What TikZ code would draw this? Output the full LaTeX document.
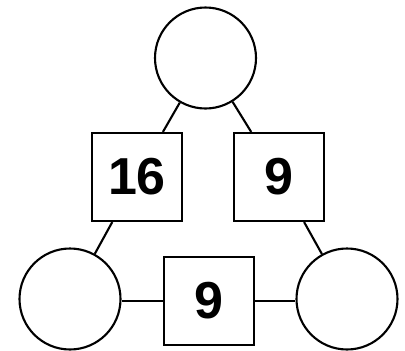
\documentclass[tikz,border=0pt]{standalone}
\usepackage{fontspec}
\setmainfont{Liberation Sans}
\begin{document}
\begin{tikzpicture}[x=1pt,y=-1pt,
  circ/.style={draw,circle,line width=2.1pt,minimum size=101pt,inner sep=0pt},
  sq/.style={draw,rectangle,line width=2.1pt,minimum width=90pt,minimum height=88pt,inner sep=0pt,font=\fontsize{52}{52}\selectfont\bfseries},
  conn/.style={line width=2.1pt}]
\useasboundingbox (0,0) rectangle (405,351);
\node[circ] (top) at (205.5,58) {};
\node[circ] (bl) at (70,299) {};
\node[circ] (br) at (347,299) {};
\node[sq] (s16) at (137,177) {16};
\node[sq] (s9r) at (279,177) {9};
\node[sq] (s9b) at (209,301) {9};
\draw[conn] (top) -- (s16);
\draw[conn] (top) -- (s9r);
\draw[conn] (s16) -- (bl);
\draw[conn] (s9r) -- (br);
\draw[conn] (bl.east |- s9b.west) -- (s9b.west);
\draw[conn] (s9b.east) -- (br.west |- s9b.east);
\end{tikzpicture}
\end{document}
